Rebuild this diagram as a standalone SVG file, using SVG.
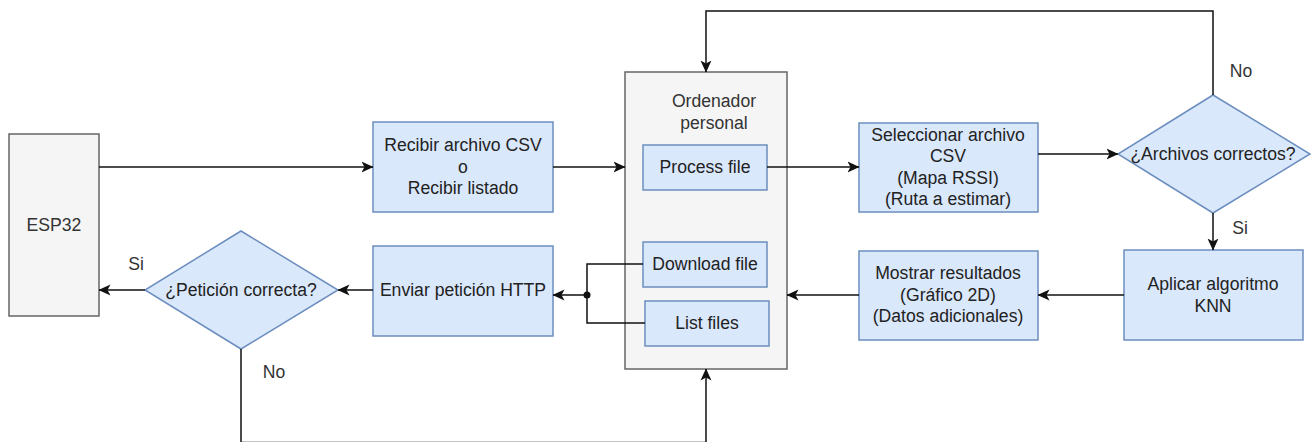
<svg xmlns="http://www.w3.org/2000/svg" width="1312" height="442" viewBox="0 0 1312 442">
  <style>
    .proc { fill: #dae8fc; stroke: #6c8ebf; stroke-width: 1.5; }
    .grey { fill: #f5f5f5; stroke: #666666; stroke-width: 1.5; }
    .edge { fill: none; stroke: #111111; stroke-width: 1.5; }
    text { font-family: "Liberation Sans", Arial, sans-serif; font-size: 17.6px; fill: #222222; text-anchor: middle; }
    .lbl { fill: #333333; }
  </style>
  <defs>
    <marker id="arrow" viewBox="0 0 12 12" refX="11.5" refY="6" markerWidth="12" markerHeight="12" markerUnits="userSpaceOnUse" orient="auto">
      <path d="M0,0.5 L12,6 L0,11.5 L3,6 Z" fill="#111111"/>
    </marker>
  </defs>

  <!-- ESP32 board -->
  <g id="esp32">
    <rect class="grey" x="9" y="134" width="90" height="182"/>
    <text x="54" y="231" class="lbl">ESP32</text>
  </g>

  <!-- PC container -->
  <g id="ordenador">
    <rect class="grey" x="625" y="72" width="162" height="297"/>
    <text x="714" y="107" class="lbl">Ordenador</text>
    <text x="714" y="129" class="lbl">personal</text>
  </g>

  <g id="process-file">
    <rect class="proc" x="643" y="145" width="124" height="45"/>
    <text x="705" y="173">Process file</text>
  </g>

  <g id="download-file">
    <rect class="proc" x="643" y="242" width="124" height="45"/>
    <text x="705" y="270">Download file</text>
  </g>

  <g id="list-files">
    <rect class="proc" x="645" y="301" width="124" height="45"/>
    <text x="707" y="329">List files</text>
  </g>

  <g id="recibir">
    <rect class="proc" x="373" y="122" width="180" height="90"/>
    <text x="463" y="151">Recibir archivo CSV</text>
    <text x="463" y="173">o</text>
    <text x="463" y="194">Recibir listado</text>
  </g>

  <g id="enviar">
    <rect class="proc" x="373" y="246" width="180" height="90"/>
    <text x="463" y="296">Enviar petición HTTP</text>
  </g>

  <g id="peticion-correcta">
    <polygon class="proc" points="241,231 338,290 241,349 145,290"/>
    <text x="241" y="296">¿Petición correcta?</text>
  </g>

  <g id="seleccionar">
    <rect class="proc" x="859" y="123" width="179" height="89"/>
    <text x="948" y="141">Seleccionar archivo</text>
    <text x="948" y="162">CSV</text>
    <text x="948" y="184">(Mapa RSSI)</text>
    <text x="948" y="205">(Ruta a estimar)</text>
  </g>

  <g id="archivos-correctos">
    <polygon class="proc" points="1213,95 1310,154 1213,213 1118,154"/>
    <text x="1213" y="160">¿Archivos correctos?</text>
  </g>

  <g id="aplicar-knn">
    <rect class="proc" x="1124" y="250" width="179" height="90"/>
    <text x="1213" y="290">Aplicar algoritmo</text>
    <text x="1213" y="312">KNN</text>
  </g>

  <g id="mostrar">
    <rect class="proc" x="859" y="251" width="179" height="89"/>
    <text x="948" y="279">Mostrar resultados</text>
    <text x="948" y="301">(Gráfico 2D)</text>
    <text x="948" y="322">(Datos adicionales)</text>
  </g>

  <!-- Connectors -->
  <g id="connectors">
    <path class="edge" d="M99,167 H373" marker-end="url(#arrow)"/>
    <path class="edge" d="M553,167 H625" marker-end="url(#arrow)"/>
    <path class="edge" d="M767,167 H859" marker-end="url(#arrow)"/>
    <path class="edge" d="M1038,154 H1118" marker-end="url(#arrow)"/>
    <path class="edge" d="M1213,95 V11 H706 V72" marker-end="url(#arrow)"/>
    <path class="edge" d="M1213,213 V250" marker-end="url(#arrow)"/>
    <path class="edge" d="M1124,295 H1038" marker-end="url(#arrow)"/>
    <path class="edge" d="M859,295 H787" marker-end="url(#arrow)"/>
    <path class="edge" d="M643,264 H587 V295 H553" marker-end="url(#arrow)"/>
    <path class="edge" d="M645,323 H587 V295"/>
    <circle cx="587" cy="295" r="3.5" fill="#111111"/>
    <path class="edge" d="M373,290 H338" marker-end="url(#arrow)"/>
    <path class="edge" d="M145,290 H99" marker-end="url(#arrow)"/>
    <!-- return path runs along the lower edge of the canvas -->
    <path class="edge" d="M241,349 V442.6 H706 V369" marker-end="url(#arrow)"/>
  </g>

  <!-- Branch labels -->
  <g id="labels">
    <text x="136" y="270" class="lbl">Si</text>
    <text x="274" y="378" class="lbl">No</text>
    <text x="1241" y="77" class="lbl">No</text>
    <text x="1240" y="234" class="lbl">Si</text>
  </g>
</svg>
